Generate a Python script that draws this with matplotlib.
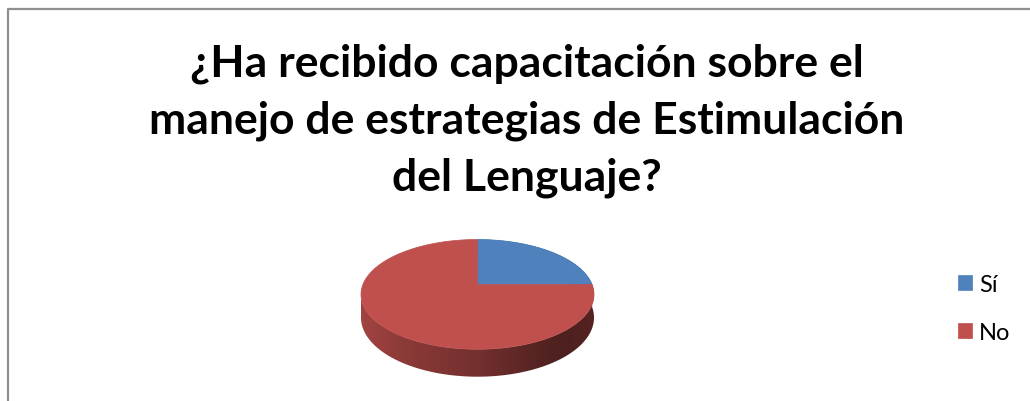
import numpy as np
import matplotlib
matplotlib.use('Agg')
import matplotlib.pyplot as plt
from matplotlib.lines import Line2D
from matplotlib.patches import Polygon
from matplotlib.colors import to_rgb

labels = ['Sí', 'No']
values = [25, 75]
colors = ['#4F81BD', '#C0504D']
title_lines = ['¿Ha recibido capacitación sobre el',
               'manejo de estrategias de Estimulación',
               'del Lenguaje?']

W, H = 1030, 402
fig = plt.figure(figsize=(W / 100, H / 100), dpi=100)
ax = fig.add_axes([0, 0, 1, 1])
ax.set_xlim(0, W)
ax.set_ylim(H, 0)
ax.axis('off')

# ---- 3D pie geometry (pixel layout) ----
cx, cy = 477.5, 285.5        # projected pie centre
k = 0.18                     # perspective strength
ry_s = 45 * (1 + k)          # far radius -> 45 px above centre
tt = np.linspace(0, 2 * np.pi, 2000)
rx_s = 116.5 / np.max(np.abs(np.cos(tt) / (1 + k * np.sin(tt))))
depth_s = 22.5

def proj(theta_deg, z=0.0):
    t = np.radians(theta_deg)
    x, y = np.cos(t), np.sin(t)
    w = 1 + k * y
    return cx + rx_s * x / w, cy - ry_s * y / w + z / w

# slice angle ranges (clockwise from 12 o'clock)
total = float(sum(values))
ranges = []
start = 90.0
for v in values:
    end = start - 360.0 * v / total
    ranges.append((end, start))
    start = end

# silhouette angles (extreme left/right of projected top rim)
tdeg = np.degrees(tt)
sx = np.cos(tt) / (1 + k * np.sin(tt))
t_left = tdeg[np.argmin(sx)]
t_right = tdeg[np.argmax(sx)] + 360.0
front = (t_left, t_right)

def shade_of(xpix):
    xn = (xpix - cx) / 116.5
    return np.interp(xn, [-1.0, -0.6, 0.0, 0.5, 0.75, 1.0],
                     [0.84, 0.72, 0.60, 0.45, 0.40, 0.44])

# side walls with horizontal gradient, clipped to each slice's visible part
for (a, b), col in zip(ranges, colors):
    for shift in (-360.0, 0.0, 360.0):
        lo = max(a + shift, front[0])
        hi = min(b + shift, front[1])
        if hi <= lo:
            continue
        ang = np.linspace(lo, hi, 200)
        top = np.array([proj(t) for t in ang])
        bot = np.array([proj(t, depth_s) for t in ang[::-1]])
        poly = Polygon(np.vstack([top, bot]), closed=True, facecolor='none',
                       edgecolor='none', transform=ax.transData)
        ax.add_patch(poly)
        x0, x1 = np.min(top[:, 0]) - 2, np.max(top[:, 0]) + 2
        y0, y1 = np.min(top[:, 1]) - 2, np.max(bot[:, 1]) + 2
        xs = np.linspace(x0, x1, 400)
        base = np.array(to_rgb(col))
        img = (base[None, :] * shade_of(xs)[:, None])[None, :, :]
        im = ax.imshow(img, extent=(x0, x1, y1, y0), aspect='auto',
                       interpolation='bilinear', zorder=2)
        im.set_clip_path(poly)

ax.set_xlim(0, W)
ax.set_ylim(H, 0)

# top faces
handles = []
for (a, b), col in zip(ranges, colors):
    ang = np.linspace(a, b, 300)
    pts = [(cx, cy)] + [proj(t) for t in ang]
    p = Polygon(pts, closed=True, facecolor=col, edgecolor=col, lw=0.5, zorder=3)
    ax.add_patch(p)
    handles.append(p)

# legend
ax.legend(handles, labels, loc='center left',
          bbox_to_anchor=(958 / W, 1 - 309.5 / H), frameon=False,
          borderpad=0, borderaxespad=0,
          handlelength=0.59, handleheight=0.59, handletextpad=0.3,
          labelspacing=1.16, prop=dict(family='Lato', size=17))

# title
fig.text(527 / W, 1 - 120.5 / H, '\n'.join(title_lines), ha='center', va='center',
         fontsize=32, fontweight='bold', family='Lato', linespacing=1.5)

# chart frame (left and top edges visible)
fig.add_artist(Line2D([8 / W, 8 / W, 1], [0, 1 - 10 / H, 1 - 10 / H],
                      transform=fig.transFigure, color='#8f8f8f', lw=1.6))

fig.savefig('out.png', dpi=100)
